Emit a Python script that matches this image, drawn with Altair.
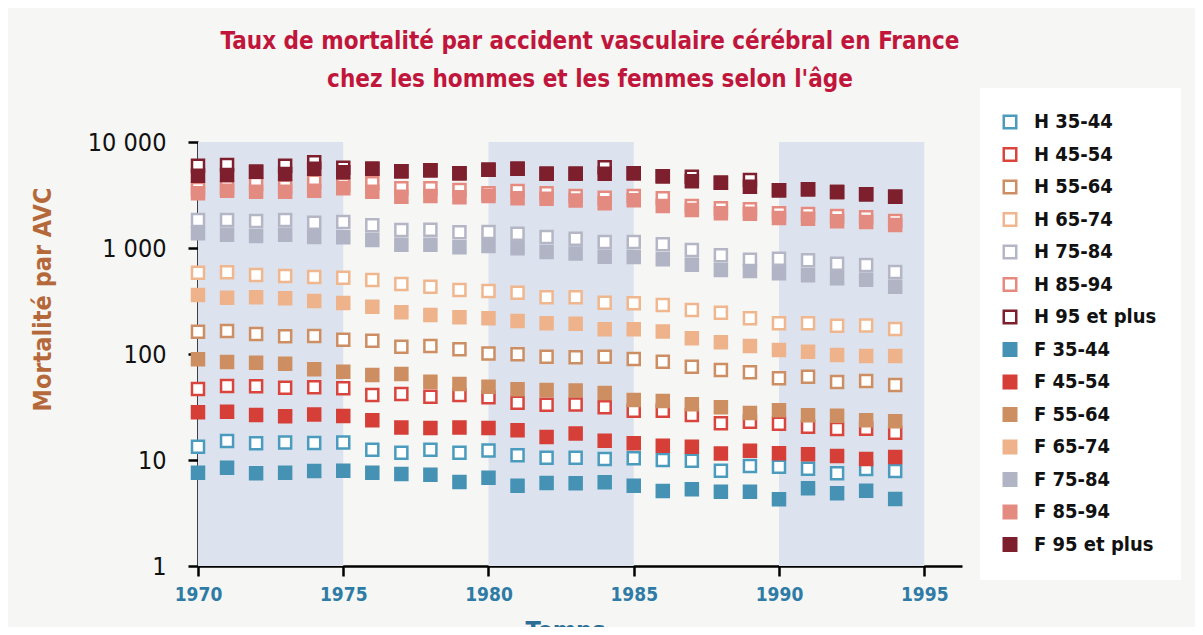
import altair as alt
import pandas as pd

# ---------------- data ----------------
years = list(range(1970, 1995))

series_names = [
    "H 35-44", "H 45-54", "H 55-64", "H 65-74", "H 75-84", "H 85-94", "H 95 et plus",
    "F 35-44", "F 45-54", "F 55-64", "F 65-74", "F 75-84", "F 85-94", "F 95 et plus",
]

h35 = [13.3, 15.1, 14.4, 14.6, 14.5, 14.6, 12.5, 11.7, 12.5, 11.7, 12.3, 11.1, 10.5, 10.5, 10.2, 10.4, 10.0, 9.85, 7.93, 8.77, 8.65, 8.28, 7.49, 8.23, 7.87]
h45 = [46.7, 49.9, 49.6, 48.1, 48.5, 47.5, 41.0, 42.0, 39.6, 41.0, 39.0, 34.7, 33.2, 33.4, 31.4, 29.2, 29.2, 26.6, 22.2, 23.0, 22.0, 20.6, 19.6, 19.7, 18.1]
h55 = [162, 165, 154, 147, 148, 136, 133, 117, 119, 111, 101, 99.3, 94.3, 93.1, 94.3, 89.7, 84.6, 75.9, 70.6, 67.2, 59.0, 61.1, 54.4, 55.6, 51.0]
h65 = [585, 590, 556, 544, 532, 525, 499, 458, 432, 402, 393, 379, 343, 343, 305, 301, 290, 260, 245, 217, 195, 195, 185, 186, 172]
h75 = [1837, 1837, 1798, 1837, 1733, 1759, 1637, 1479, 1489, 1406, 1416, 1365, 1270, 1224, 1140, 1140, 1084, 958, 853, 776, 793, 766, 711, 691, 594]
h85 = [3604, 3740, 4016, 3787, 4220, 3930, 4077, 3656, 3656, 3530, 3283, 3451, 3283, 3095, 2985, 3095, 2944, 2490, 2369, 2318, 2125, 2093, 2004, 1950, 1799]
h95 = [5975, 6067, 5248, 5975, 6432, 5724, 5598, 5296, 5410, 5070, 5480, 5598, 5023, 5023, 5770, 5070, 4747, 4707, 4130, 4383, 3501, 3580, 3375, 3212, 3048]

f35 = [7.59, 8.46, 7.49, 7.59, 7.87, 7.93, 7.59, 7.38, 7.27, 6.20, 6.81, 5.72, 6.07, 6.03, 6.16, 5.72, 5.10, 5.29, 5.02, 5.02, 4.26, 5.41, 4.85, 5.13, 4.29]
f45 = [28.2, 28.6, 26.6, 25.8, 26.8, 26.0, 23.7, 20.3, 20.0, 20.3, 20.0, 19.1, 16.5, 17.8, 15.2, 14.4, 13.6, 13.3, 11.5, 12.2, 11.6, 11.3, 10.9, 10.2, 10.7]
f55 = [89.1, 84.1, 82.8, 81.0, 71.7, 68.1, 63.4, 64.8, 54.8, 52.1, 49.2, 46.5, 45.7, 45.3, 42.9, 36.8, 36.0, 33.5, 31.4, 27.8, 29.4, 26.4, 26.2, 23.7, 23.2]
f65 = [360, 340, 343, 335, 316, 303, 279, 247, 233, 222, 217, 205, 195, 193, 171, 171, 163, 141, 129, 119, 109, 105, 97.9, 95.7, 95.7]
f75 = [1377, 1334, 1297, 1334, 1270, 1261, 1190, 1074, 1074, 1016, 1045, 993, 916, 887, 828, 822, 782, 695, 620, 607, 577, 553, 518, 502, 432]
f85 = [3283, 3473, 3397, 3397, 3473, 3656, 3397, 3048, 3095, 3007, 3095, 2944, 2918, 2806, 2641, 2819, 2490, 2283, 2125, 2107, 1918, 1889, 1786, 1759, 1648]
f95 = [4808, 4884, 5248, 4990, 5598, 5176, 5598, 5296, 5410, 5070, 5480, 5598, 5023, 5023, 5023, 5070, 4747, 4259, 4130, 3787, 3501, 3580, 3375, 3212, 3048]

series_values = [h35, h45, h55, h65, h75, h85, h95, f35, f45, f55, f65, f75, f85, f95]

stroke_colors = [
    "#4a9bbd", "#d9443c", "#cc8e62", "#f0b68e", "#b4b6c6", "#e68a80", "#7e1f2e",
    "#4692b4", "#d63f38", "#cd8e62", "#eeb38b", "#b1b4c4", "#e48b81", "#7d1f2d",
]
fill_colors = ["#ffffff"] * 7 + stroke_colors[7:]

band_starts = [1970, 1980, 1990]
band_ends = [1975, 1985, 1995]

x_ticks = [1970, 1975, 1980, 1985, 1990, 1995]
y_ticks = [1, 10, 100, 1000, 10000]

title_lines = [
    "Taux de mortalité par accident vasculaire cérébral en France",
    "chez les hommes et les femmes selon l'âge",
]

# ---------------- tables ----------------
rows = []
for name, vals in zip(series_names, series_values):
    for yr, v in zip(years, vals):
        rows.append({"annee": yr, "taux": v, "serie": name})
df = pd.DataFrame(rows)
bands = pd.DataFrame({"debut": band_starts, "fin": band_ends})

FONT = "'Liberation Sans Narrow', 'DejaVu Sans Condensed', 'Liberation Sans', sans-serif"

x_scale = alt.Scale(domain=[1970, 1996.3], nice=False, zero=False)
y_scale = alt.Scale(type="log", domain=[1, 10000], nice=False)

x_axis = alt.Axis(
    values=x_ticks, format="d", title="Temps", grid=False,
    labelFlush=False, labelOverlap=False, labelBound=False,
    domainColor="black", domainWidth=2.5, tickColor="black", tickWidth=2.5, tickSize=10,
    labelFont=FONT, labelFontSize=19, labelFontWeight="bold", labelColor="#2e7ba6", labelPadding=9,
    titleFont=FONT, titleFontSize=25, titleFontWeight="bold", titleColor="#2b6f96",
    titleX=367, titleY=52, titleBaseline="top", titleAlign="center",
)
y_axis = alt.Axis(
    values=y_ticks, title="Mortalité par AVC", grid=False,
    labelExpr="replace(format(datum.value, ',d'), ',', ' ')",
    labelFlush=False, labelOverlap=False, labelBound=False,
    domainColor="black", domainWidth=2.5, tickColor="black", tickWidth=2.5, tickSize=10,
    labelFont=FONT, labelFontSize=25, labelFontWeight="normal", labelColor="#111111", labelPadding=22,
    titleFont=FONT, titleFontSize=25, titleFontWeight="bold", titleColor="#b5693b",
    titleAngle=270, titleX=-156, titleY=157, titleBaseline="middle", titleAlign="center",
)

legend = alt.Legend(
    title=None, orient="none", legendX=782, legendY=-54, padding=24,
    fillColor="#ffffff", symbolType="square", symbolSize=156, symbolStrokeWidth=2.5,
    labelFont=FONT, labelFontSize=20, labelFontWeight="bold", labelColor="#111111",
    rowPadding=8.5, labelOffset=14, symbolOffset=-4,
)

band_layer = alt.Chart(bands).mark_rect(color="#dce3ee").encode(
    x=alt.X("debut:Q", scale=x_scale, axis=x_axis),
    x2="fin:Q",
    y=alt.datum(10000),
    y2=alt.datum(1),
)

points = alt.Chart(df).mark_point(
    shape="square", filled=True, size=144, strokeWidth=2.5, opacity=1
).encode(
    x=alt.X("annee:Q", scale=x_scale, axis=x_axis),
    y=alt.Y("taux:Q", scale=y_scale, axis=y_axis),
    fill=alt.Fill("serie:N", scale=alt.Scale(domain=series_names, range=fill_colors), legend=legend),
    stroke=alt.Stroke("serie:N", scale=alt.Scale(domain=series_names, range=stroke_colors), legend=legend),
)

chart = alt.layer(band_layer, points).properties(
    width=764,
    height=424,
    autosize=alt.AutoSizeParams(type="none"),
    padding={"left": 190, "top": 134, "right": 233, "bottom": 61},
    background="#f6f6f4",
    title=alt.TitleParams(
        text=title_lines, font=FONT, fontSize=24, fontWeight="bold", color="#c0163c",
        anchor="middle", frame="group", dx=10, dy=4, offset=0, lineHeight=38,
    ),
).configure_view(strokeWidth=0)

chart.save("out.html", embed_options={"renderer": "svg", "actions": False})
